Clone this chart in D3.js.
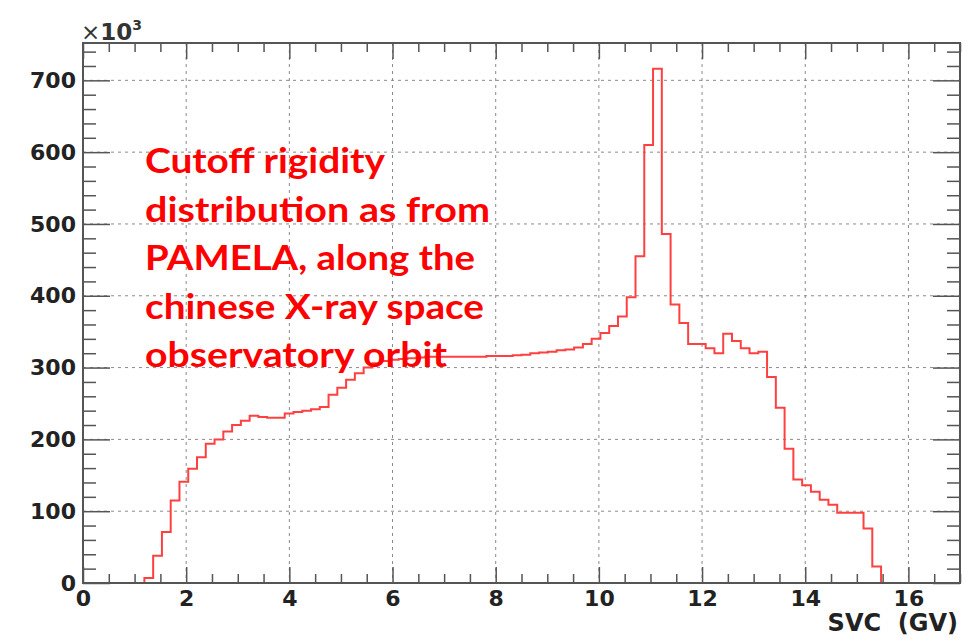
<!DOCTYPE html>
<html>
<head>
<meta charset="utf-8">
<script src="https://cdn.jsdelivr.net/npm/d3@7"></script>
<style>
  html, body { margin: 0; padding: 0; background: #ffffff; }
  svg { display: block; }
</style>
</head>
<body>
<svg id="chart" width="973" height="638"></svg>
<script>
// ---- data (counts in units of 10^3), histogram: 100 bins over 0..17 GV ----
const binWidth = 0.17;
const firstBinLow = 1.19;   // low edge of the first non-empty bin (bin #7)
const counts = [
  7, 38, 71, 115, 141, 159, 175, 194, 200, 211,
  220, 226, 233, 231, 230, 230, 236, 238, 240, 242,
  245, 262, 272, 283, 292, 300, 306, 309, 311, 312,
  313, 314, 315, 315, 315, 315, 315, 315, 315, 316,
  316, 316, 317, 318, 320, 321, 322, 324, 325, 328,
  333, 340, 348, 358, 371, 398, 455, 610, 716, 486,
  388, 362, 333, 333, 327, 320, 347, 337, 327, 320,
  322, 287, 244, 187, 144, 136, 127, 116, 109, 98,
  98, 98, 76, 23
];
const xMajorTicks = [0, 2, 4, 6, 8, 10, 12, 14, 16];
const yMajorTicks = [0, 100, 200, 300, 400, 500, 600, 700];
const xTitle = "SVC  (GV)";
const annotation = [
  "Cutoff rigidity",
  "distribution as from",
  "PAMELA, along the",
  "chinese X-ray space",
  "observatory orbit"
];
const annotationWidths = [240, 345, 330, 339, 302];

// ---- layout ----
const svg = d3.select("#chart");
const L = 83, R = 960, T = 43, B = 583;
const x = d3.scaleLinear().domain([0, 17]).range([L, R]);
const y = d3.scaleLinear().domain([0, 752]).range([B, T]);

const xMinor = d3.range(0, 17.01, 0.5).filter(v => !xMajorTicks.includes(v));
const yMinor = d3.range(0, 752, 20).filter(v => v % 100 !== 0);

// grid
const grid = svg.append("g").attr("stroke", "#8a8a8a").attr("stroke-width", 1)
  .attr("stroke-dasharray", "3,4");
xMajorTicks.filter(v => v > 0).forEach(v => {
  grid.append("line").attr("x1", x(v)).attr("x2", x(v)).attr("y1", T).attr("y2", B);
});
yMajorTicks.filter(v => v > 0).forEach(v => {
  grid.append("line").attr("x1", L).attr("x2", R).attr("y1", y(v)).attr("y2", y(v));
});

// histogram outline
const pts = [[x(firstBinLow), y(0)]];
counts.forEach((c, i) => {
  const lo = firstBinLow + i * binWidth, hi = lo + binWidth;
  pts.push([x(lo), y(c)]);
  pts.push([x(hi), y(c)]);
});
pts.push([x(firstBinLow + counts.length * binWidth), y(0)]);
svg.append("path")
  .attr("d", d3.line()(pts))
  .attr("fill", "none")
  .attr("stroke", "#ff4040")
  .attr("stroke-width", 2);

// axes
const axisColor = "#555";
function styleAxis(g) {
  g.select(".domain").remove();
  g.selectAll(".tick line").attr("stroke", axisColor).attr("stroke-width", 1.5);
  g.selectAll("text").attr("font-family", "'DejaVu Sans', sans-serif")
    .attr("font-weight", "bold").attr("font-size", 22).attr("fill", "#222");
}
svg.append("g").attr("transform", `translate(0,${B})`)
  .call(d3.axisBottom(x).tickValues(xMajorTicks).tickSize(-16).tickPadding(7).tickFormat(d3.format("d")))
  .call(styleAxis);
svg.append("g").attr("transform", `translate(0,${B})`)
  .call(d3.axisBottom(x).tickValues(xMinor).tickSize(-9).tickFormat(""))
  .call(styleAxis);
svg.append("g").attr("transform", `translate(0,${T})`)
  .call(d3.axisTop(x).tickValues(xMajorTicks).tickSize(-16).tickFormat(""))
  .call(styleAxis);
svg.append("g").attr("transform", `translate(0,${T})`)
  .call(d3.axisTop(x).tickValues(xMinor).tickSize(-9).tickFormat(""))
  .call(styleAxis);
svg.append("g").attr("transform", `translate(${L},0)`)
  .call(d3.axisLeft(y).tickValues(yMajorTicks).tickSize(-27).tickPadding(7).tickFormat(d3.format("d")))
  .call(styleAxis);
svg.append("g").attr("transform", `translate(${L},0)`)
  .call(d3.axisLeft(y).tickValues(yMinor).tickSize(-13).tickFormat(""))
  .call(styleAxis);
svg.append("g").attr("transform", `translate(${R},0)`)
  .call(d3.axisRight(y).tickValues(yMajorTicks).tickSize(-27).tickFormat(""))
  .call(styleAxis);
svg.append("g").attr("transform", `translate(${R},0)`)
  .call(d3.axisRight(y).tickValues(yMinor).tickSize(-13).tickFormat(""))
  .call(styleAxis);

// frame
svg.append("rect").attr("x", L).attr("y", T).attr("width", R - L).attr("height", B - T)
  .attr("fill", "none").attr("stroke", axisColor).attr("stroke-width", 2);

// exponent label
const ex = svg.append("text").attr("x", L - 2).attr("y", 40)
  .attr("font-family", "'DejaVu Sans', sans-serif").attr("font-weight", "bold")
  .attr("font-size", 23).attr("fill", "#333");
ex.append("tspan").attr("font-weight", "normal").text("×");
ex.append("tspan").text("10");
ex.append("tspan").attr("font-size", 14).attr("dy", -10).text("3");

// axis title
svg.append("text").attr("x", 958).attr("y", 631).attr("text-anchor", "end")
  .attr("font-family", "'DejaVu Sans', sans-serif").attr("font-weight", "bold")
  .attr("font-size", 24).attr("fill", "#222").attr("xml:space", "preserve")
  .text(xTitle);

// annotation
const ann = svg.append("g");
annotation.forEach((s, i) => {
  ann.append("text").attr("x", 145).attr("y", 173 + i * 48.5)
    .attr("font-family", "Lato, 'Open Sans', sans-serif").attr("font-weight", "bold")
    .attr("font-size", 34).attr("fill", "#ff0000")
    .attr("textLength", annotationWidths[i]).attr("lengthAdjust", "spacingAndGlyphs")
    .text(s);
});
</script>
</body>
</html>
